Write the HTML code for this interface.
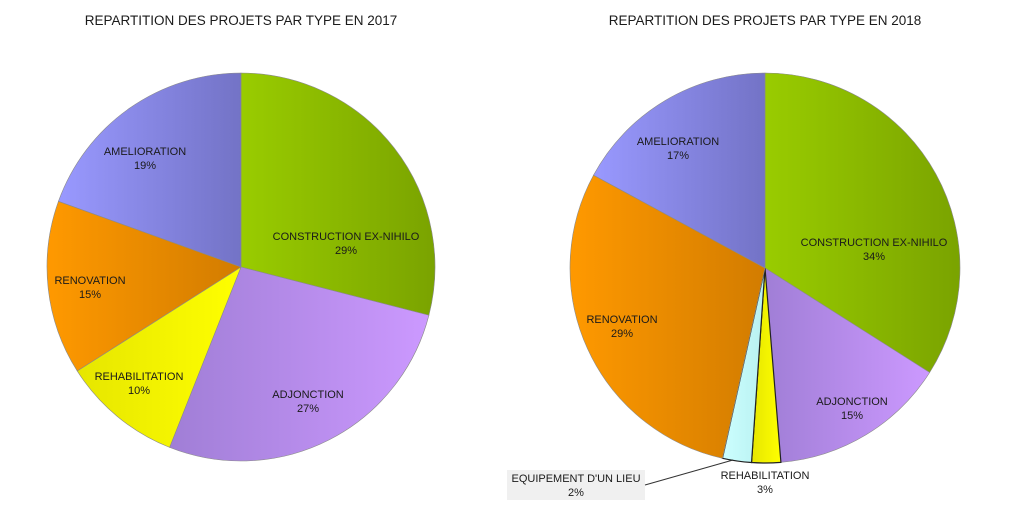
<!DOCTYPE html>
<html><head><meta charset="utf-8"><style>
html,body{margin:0;padding:0;background:#fff}
svg{display:block}
text{font-family:"Liberation Sans",Arial,sans-serif;fill:#1a1a1a}
.t{font-size:13.5px}
.l{font-size:11px}
</style></head><body>
<svg id="s" width="1024" height="515" viewBox="0 0 1024 515" xmlns="http://www.w3.org/2000/svg">
<defs>
<linearGradient id="gG" x1="0" x2="1" y1="0" y2="0"><stop offset="0" stop-color="#99cc00"/><stop offset="1" stop-color="#7aa300"/></linearGradient>
<linearGradient id="gP" x1="0" x2="1" y1="0" y2="0"><stop offset="0" stop-color="#a07ed6"/><stop offset="1" stop-color="#cc99ff"/></linearGradient>
<linearGradient id="gY" x1="0" x2="1" y1="0" y2="0"><stop offset="0" stop-color="#e6e600"/><stop offset="1" stop-color="#ffff00"/></linearGradient>
<linearGradient id="gO" x1="0" x2="1" y1="0" y2="0"><stop offset="0" stop-color="#ff9900"/><stop offset="1" stop-color="#d27c00"/></linearGradient>
<linearGradient id="gB" x1="0" x2="1" y1="0" y2="0"><stop offset="0" stop-color="#9999ff"/><stop offset="1" stop-color="#7373c6"/></linearGradient>
<linearGradient id="gC" x1="0" x2="1" y1="0" y2="0"><stop offset="0" stop-color="#ccffff"/><stop offset="1" stop-color="#b8f0f0"/></linearGradient>
</defs>
<g id="p"></g>
<text class="t" x="241" y="25" text-anchor="middle">REPARTITION DES PROJETS PAR TYPE EN 2017</text>
<text class="t" x="765" y="25" text-anchor="middle">REPARTITION DES PROJETS PAR TYPE EN 2018</text>
<g class="l" text-anchor="middle">
<text class="l" x="346" y="240">CONSTRUCTION EX-NIHILO</text><text class="l" x="346" y="254">29%</text>
<text class="l" x="145" y="155">AMELIORATION</text><text class="l" x="145" y="169">19%</text>
<text class="l" x="90" y="284">RENOVATION</text><text class="l" x="90" y="298">15%</text>
<text class="l" x="139" y="380">REHABILITATION</text><text class="l" x="139" y="394">10%</text>
<text class="l" x="308" y="398">ADJONCTION</text><text class="l" x="308" y="412">27%</text>
<text class="l" x="678" y="145">AMELIORATION</text><text class="l" x="678" y="159">17%</text>
<text class="l" x="874" y="246">CONSTRUCTION EX-NIHILO</text><text class="l" x="874" y="260">34%</text>
<text class="l" x="622" y="323">RENOVATION</text><text class="l" x="622" y="337">29%</text>
<text class="l" x="852" y="405">ADJONCTION</text><text class="l" x="852" y="419">15%</text>
<text class="l" x="765" y="479">REHABILITATION</text><text class="l" x="765" y="493">3%</text>
</g>
<rect x="507" y="470" width="138" height="30" fill="#f0f0f0"/>
<line x1="645" y1="485" x2="733" y2="460" stroke="#333" stroke-width="1"/>
<text class="l" x="576" y="482" text-anchor="middle">EQUIPEMENT D'UN LIEU</text>
<text class="l" x="576" y="496" text-anchor="middle">2%</text>
</svg>
<script>
var g=document.getElementById('p');
function pie(cx,cy,r,d){var a=0;d.forEach(function(s){var a0=a,a1=a+s[0]*3.6;a=a1;
function pt(t){var rad=t*Math.PI/180;return [cx+r*Math.sin(rad),cy-r*Math.cos(rad)];}
var p0=pt(a0),p1=pt(a1),lg=(a1-a0)>180?1:0;
var e=document.createElementNS('http://www.w3.org/2000/svg','path');
e.setAttribute('d','M'+cx+','+cy+'L'+p0[0]+','+p0[1]+'A'+r+','+r+' 0 '+lg+' 1 '+p1[0]+','+p1[1]+'Z');
e.setAttribute('fill','url(#'+s[1]+')');e.setAttribute('stroke',s[2]||'#8a8a8a');e.setAttribute('stroke-width',s[2]?'1.2':'0.6');
g.appendChild(e);});}
pie(241,267,194,[[29,'gG'],[27,'gP'],[10,'gY'],[14.5,'gO'],[19.5,'gB']]);
pie(765,268,195,[[34,'gG'],[14.7,'gP'],[2.4,'gY','#222'],[2.4,'gC','#222'],[29.4,'gO'],[17.1,'gB']]);
</script>
</body></html>
